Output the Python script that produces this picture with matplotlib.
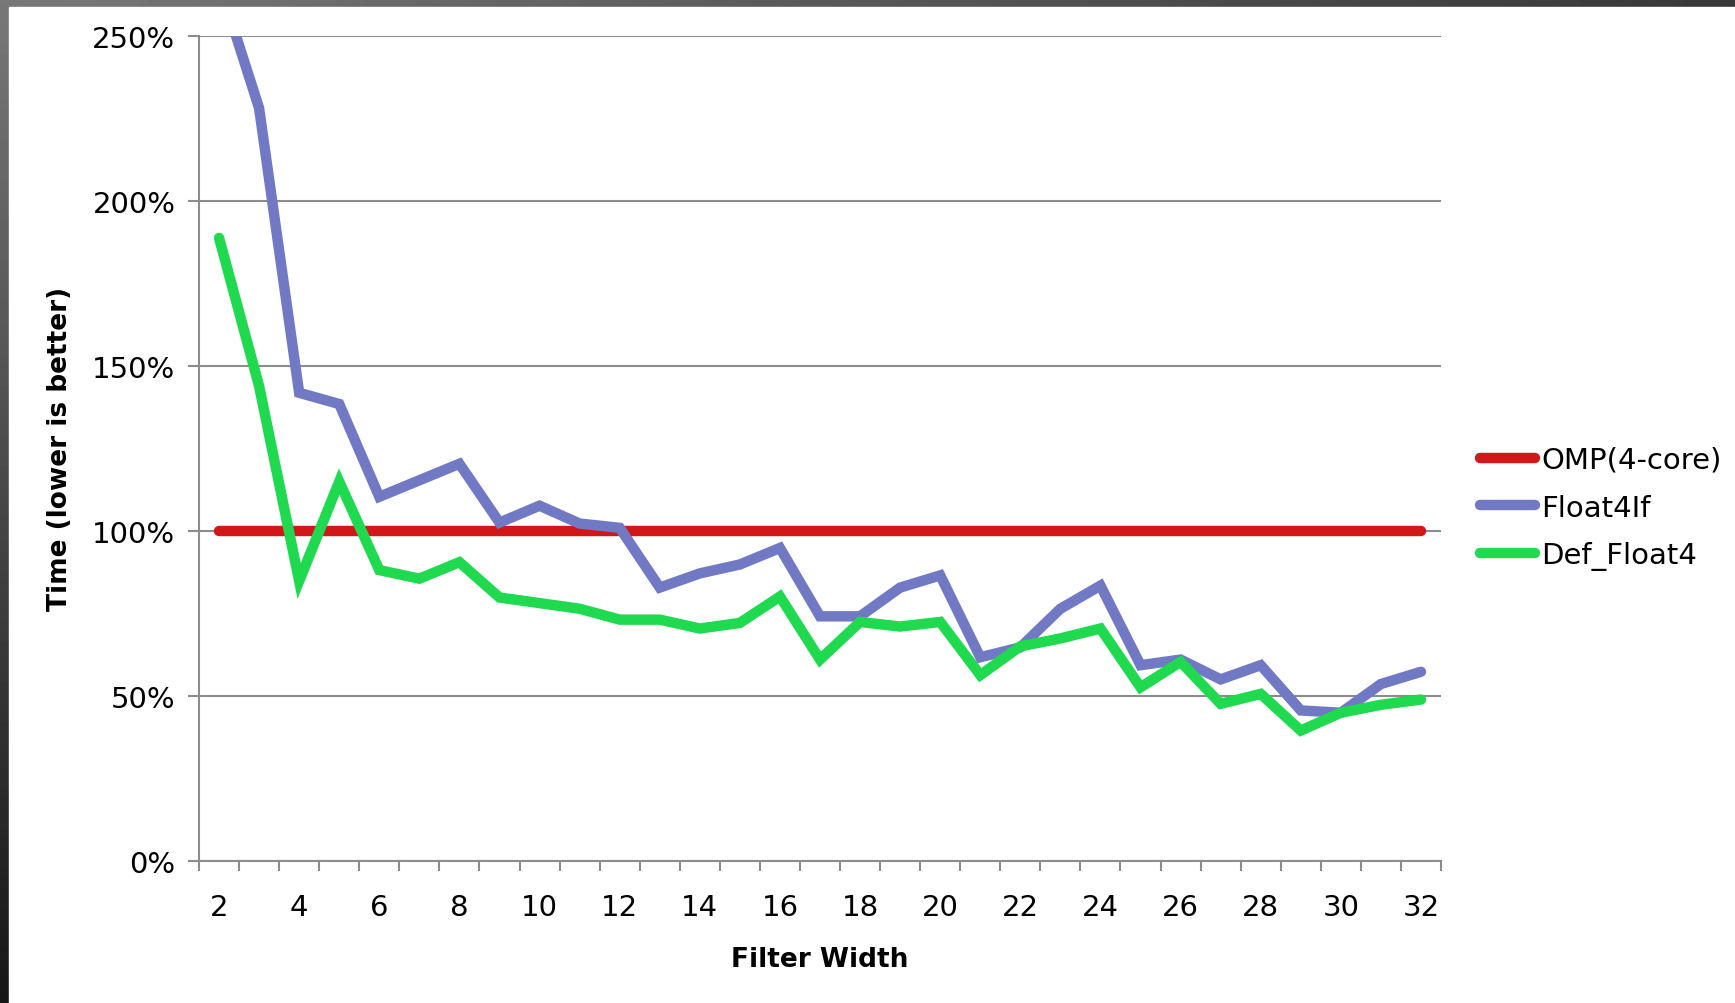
import numpy as np
import matplotlib
matplotlib.use("Agg")
from matplotlib import pyplot as plt
from matplotlib.ticker import FixedLocator, FuncFormatter

# filter widths 2..32
widths = list(range(2, 33))

omp_4core = [100] * 31

float4if = [266, 228, 141.8, 138.4, 110.3, 115.3, 120.3, 102.5, 107.6, 102.2,
            100.9, 82.8, 87.1, 89.8, 94.8, 74.1, 74.1, 82.8, 86.5, 61.7,
            64.7, 76.4, 83.4, 59.3, 61.0, 55.0, 59.3, 45.6, 44.9, 53.6, 57.3]

def_float4 = [188.7, 143.8, 84.8, 114.9, 88.1, 85.5, 90.5, 79.8, 78.1, 76.4,
              73.1, 73.1, 70.4, 72.1, 80.1, 61.0, 72.4, 71.0, 72.4, 56.3,
              65.0, 67.4, 70.4, 52.6, 60.3, 47.6, 50.6, 39.5, 44.9, 47.3, 48.9]

series_names = ["OMP(4-core)", "Float4If", "Def_Float4"]
series_colors = ["#d11717", "#7179c4", "#1fd94f"]

plt.rcParams['font.family'] = ['DejaVu Sans']

fig = plt.figure(figsize=(17.35, 10.04), dpi=100)
fig.patch.set_facecolor("white")

# dark slide frame on the top and left edges
bg = fig.add_axes([0, 0, 1, 1], zorder=-10)
gx = np.linspace(0, 1, 200)
gy = np.linspace(0, 1, 200)
grad = 0.47 - 0.25 * gx[None, :] - 0.38 * gy[:, None]
bg.imshow(np.clip(grad, 0.05, 1), cmap="gray", vmin=0, vmax=1, aspect="auto",
          extent=[0, 1, 0, 1], origin="upper")
bg.add_patch(plt.Rectangle((9 / 1735, 0), 1, 1 - 8 / 1004, color="white"))
bg.set_xlim(0, 1)
bg.set_ylim(0, 1)
bg.axis("off")

ax = fig.add_axes([199 / 1735, 142 / 1004, (1441 - 199) / 1735, (967.5 - 142) / 1004])
ax.set_facecolor("none")

for vals, name, col in zip([omp_4core, float4if, def_float4], series_names, series_colors):
    ax.plot(widths, vals, color=col, lw=7.5, label=name, solid_capstyle="round",
            solid_joinstyle="miter")

ax.set_xlim(1.5, 32.5)
ax.set_ylim(0, 250)
ax.set_yticks([0, 50, 100, 150, 200, 250])
ax.yaxis.set_major_formatter(FuncFormatter(lambda v, p: "%d%%" % v))
ax.yaxis.grid(True, color="#8c8c8c", lw=1.5)
ax.set_axisbelow(True)

ax.set_xticks(widths[::2])
ax.xaxis.set_minor_locator(FixedLocator(np.arange(1.5, 33, 1)))
ax.tick_params(axis="x", which="major", length=0, pad=23, labelsize=21)
ax.tick_params(axis="x", which="minor", length=7, width=1.5, color="#8c8c8c",
               direction="out")
ax.tick_params(axis="y", length=8, width=1.5, color="#8c8c8c", labelsize=21, pad=9)

for side in ["top", "right"]:
    ax.spines[side].set_visible(False)
for side in ["left", "bottom"]:
    ax.spines[side].set_color("#8c8c8c")
    ax.spines[side].set_linewidth(1.5)

ax.set_xlabel("Filter Width", fontsize=19, fontweight="bold")
ax.xaxis.set_label_coords(0.5, -0.103)
ax.set_ylabel("Time (lower is better)", fontsize=19, fontweight="bold")
ax.yaxis.set_label_coords(-0.1015, 0.5)

leg = fig.legend(loc="upper left", bbox_to_anchor=(1480 / 1735, 1 - 447 / 1004),
                 frameon=False, fontsize=21, handlelength=1.9, handletextpad=0.2,
                 labelspacing=0.67, borderpad=0, borderaxespad=0)

fig.savefig("out.png", dpi=100, facecolor="white")
